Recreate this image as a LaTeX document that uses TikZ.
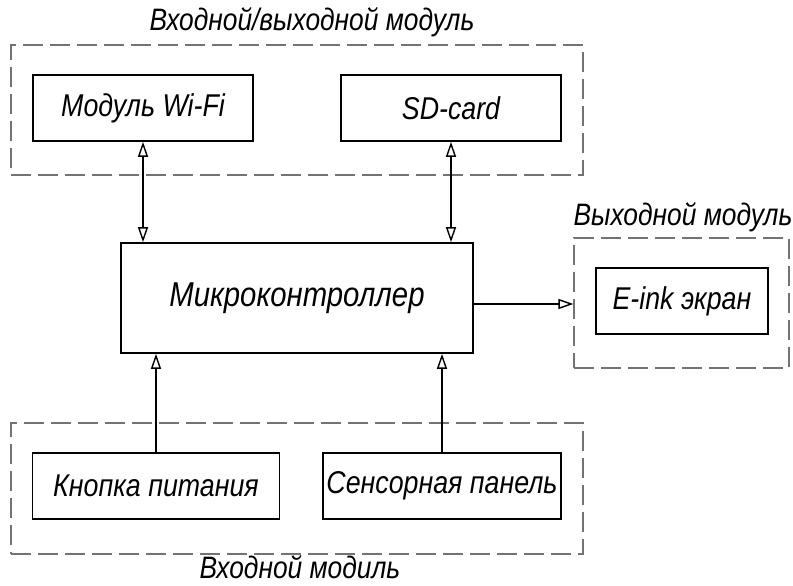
\documentclass[tikz,border=0pt]{standalone}
\usepackage{fontspec}
\setmainfont{Liberation Sans}[FakeStretch=0.85]
\usetikzlibrary{arrows.meta}
\begin{document}
\begin{tikzpicture}[x=1pt,y=-1pt,
  blk/.style={draw=black, line width=1.6pt, minimum width=#1, inner sep=0pt, minimum height=66pt, font=\fontsize{31.5}{36}\selectfont\itshape},
  grp/.style={draw=black!55, line width=1.2pt, dash pattern=on 20pt off 7pt, inner sep=0pt},
  lbl/.style={inner sep=0pt, font=\fontsize{31}{36}\selectfont\itshape},
  conn/.style={line width=1.5pt, -{Triangle[open, length=15pt, width=10pt, line width=1.4pt]}},
  conn2/.style={line width=1.5pt, {Triangle[open, length=15pt, width=10pt, line width=1.4pt]}-{Triangle[open, length=15pt, width=10pt, line width=1.4pt]}}
]
\useasboundingbox (0,0) rectangle (793,586);
% groups
\node[grp, minimum width=572pt, minimum height=130pt] (gtop) at (297,110) {};
\node[grp, minimum width=215pt, minimum height=130pt] (gright) at (681.5,303) {};
\node[grp, minimum width=572pt, minimum height=131pt] (gbot) at (297,488.5) {};
% group labels
\node[lbl] (ltop) at (312,22) {Входной/выходной модуль};
\node[lbl] (lright) at (683,217) {Выходной модуль};
\node[lbl, anchor=base] (lbot) at (300,578) {Входной модиль};
% blocks
\node[blk=220pt] (wifi) at (143,108) {Модуль Wi-Fi};
\node[blk=220pt] (sd) at (451,108) {SD-card};
\node[blk=352pt, minimum height=110pt, font=\fontsize{34.5}{40}\selectfont\itshape] (mc) at (297,298) {Микроконтроллер};
\node[blk=172pt] (eink) at (682,301) {E-ink экран};
\node[blk=247pt] (btn) at (156,486) {Кнопка питания};
\node[blk=238pt] (touch) at (442,486) {Сенсорная панель};
% connectors
\draw[conn2] (wifi.south) -- (wifi.south |- mc.north);
\draw[conn2] (sd.south) -- (sd.south |- mc.north);
\draw[conn] (btn.north) -- (btn.north |- mc.south);
\draw[conn] (touch.north) -- (touch.north |- mc.south);
\draw[conn] (mc.east |- 0,304) -- (gright.west |- 0,304);
\end{tikzpicture}
\end{document}
